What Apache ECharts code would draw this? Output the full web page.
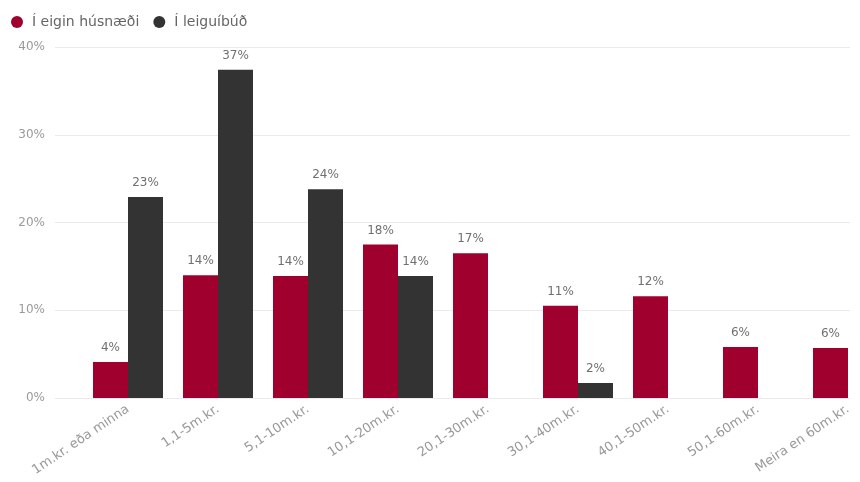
<!DOCTYPE html>
<html><head><meta charset="utf-8">
<script src="https://cdn.jsdelivr.net/npm/echarts@6/dist/echarts.min.js"></script>
<style>html,body{margin:0;padding:0;background:#fff}#c{width:860px;height:482px}</style>
</head><body><div id="c"></div>
<script>
const categories = ['1m.kr. eða minna','1,1-5m.kr.','5,1-10m.kr.','10,1-20m.kr.','20,1-30m.kr.','30,1-40m.kr.','40,1-50m.kr.','50,1-60m.kr.','Meira en 60m.kr.'];
const eiginHusnaedi = [4.1, 14.0, 13.9, 17.5, 16.5, 10.5, 11.6, 5.8, 5.7];
const leiguibud = [22.9, 37.4, 23.8, 13.9, null, 1.7, null, null, null];
const seriesNames = ['Í eigin húsnæði', 'Í leiguíbúð'];
const yTicks = [0, 10, 20, 30, 40];

const chart = echarts.init(document.getElementById('c'));
const lbl = {show:true, position:'top', distance:8, color:'#707070', fontSize:12, fontFamily:'DejaVu Sans',
  formatter: p => Math.round(p.value) + '%'};
chart.setOption({
  animation:false,
  legend:{left:6, top:10, itemWidth:12, itemHeight:12, itemGap:14, icon:'circle',
    textStyle:{color:'#666', fontSize:14, fontFamily:'DejaVu Sans', padding:[0,0,0,4]}, data:seriesNames},
  grid:[{left:55, right:10, top:47, bottom:84, outerBoundsMode:'none', containLabel:false},
        {left:83, width:810, top:47, bottom:84, outerBoundsMode:'none', containLabel:false}],
  xAxis:[
    {gridIndex:0, type:'value', show:false, min:0, max:1},
    {gridIndex:1, type:'category', data:categories,
      axisLine:{show:false}, axisTick:{show:false},
      axisLabel:{rotate:34, interval:0, margin:10, color:'#999', fontSize:13, fontFamily:'DejaVu Sans'}}
  ],
  yAxis:[
    {gridIndex:0, type:'value', min:yTicks[0], max:yTicks[yTicks.length-1], interval:10,
      axisLine:{show:false}, axisTick:{show:false},
      axisLabel:{formatter:'{value}%', color:'#9a9a9a', fontSize:12, fontFamily:'DejaVu Sans', margin:10},
      splitLine:{lineStyle:{color:'#ebebeb', width:1}}},
    {gridIndex:1, type:'value', min:0, max:40, show:false, splitLine:{show:false}}
  ],
  series:[
    {name:seriesNames[0], type:'bar', xAxisIndex:1, yAxisIndex:1, data:eiginHusnaedi, barWidth:35, barGap:'0%',
      itemStyle:{color:'#a0002d'}, label:lbl},
    {name:seriesNames[1], type:'bar', xAxisIndex:1, yAxisIndex:1, data:leiguibud, barWidth:35, barGap:'0%',
      itemStyle:{color:'#333333'}, label:lbl}
  ]
});
</script></body></html>
